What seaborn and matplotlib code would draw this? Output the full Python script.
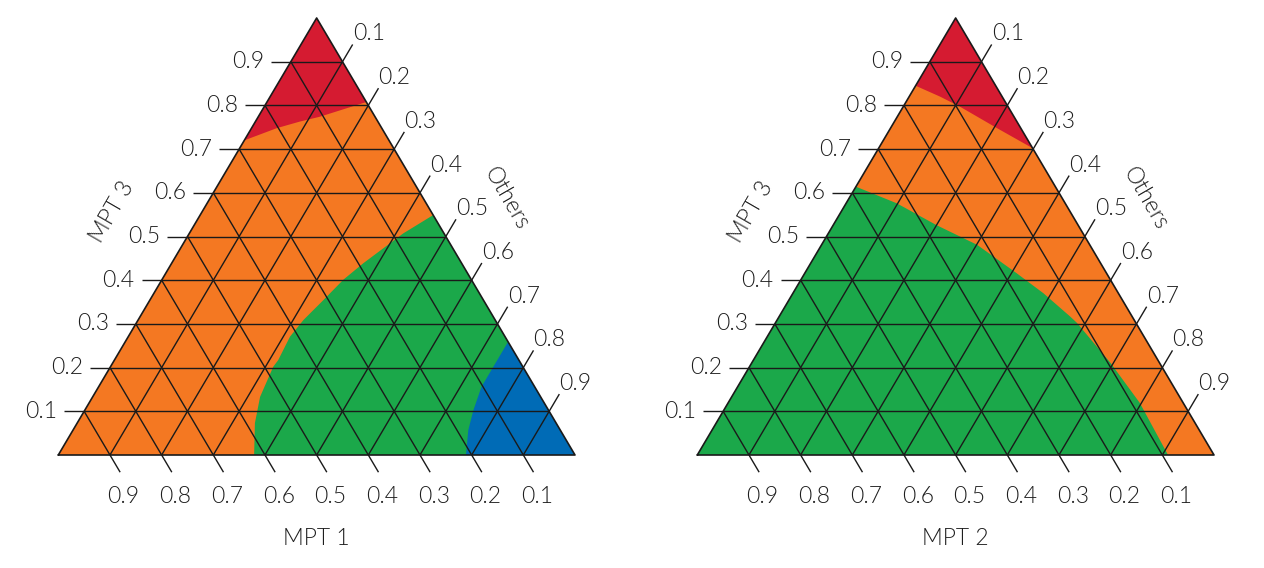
import matplotlib
matplotlib.use("Agg")
import matplotlib.pyplot as plt
from matplotlib.patches import Polygon
import seaborn as sns

sns.set_theme(style="white")
plt.rcParams["font.family"] = ["Lato", "DejaVu Sans"]

RED = "#d51b31"
ORANGE = "#f47822"
GREEN = "#1ba84a"
BLUE = "#006bb6"
LINE = "#1a1a1a"
TEXT = "#1e1e1e"

TICKS = [0.1, 0.2, 0.3, 0.4, 0.5, 0.6, 0.7, 0.8, 0.9]
TICK_LABELS = ["0.1", "0.2", "0.3", "0.4", "0.5", "0.6", "0.7", "0.8", "0.9"]

# class boundaries, as (MPT 3, Others) fractions
# left panel: MPT 1 / MPT 3 / Others
L_RED_MPT3 = [0.720, 0.748, 0.763, 0.774, 0.808]
L_RED_OTHERS = [0.000, 0.049, 0.086, 0.119, 0.193]

L_GREEN_MPT3 = [0.549, 0.507, 0.439, 0.401, 0.355, 0.309, 0.271, 0.217, 0.202, 0.133, 0.073, 0.000]
L_GREEN_OTHERS = [0.451, 0.414, 0.371, 0.351, 0.336, 0.320, 0.313, 0.317, 0.315, 0.324, 0.344, 0.379]

L_BLUE_MPT3 = [0.259, 0.202, 0.156, 0.103, 0.057, 0.000]
L_BLUE_OTHERS = [0.741, 0.741, 0.741, 0.752, 0.765, 0.789]

# right panel: MPT 2 / MPT 3 / Others
R_RED_MPT3 = [0.845, 0.820, 0.797, 0.748, 0.702]
R_RED_OTHERS = [0.000, 0.060, 0.110, 0.206, 0.298]

R_GREEN_MPT3 = [0.614, 0.576, 0.526, 0.481, 0.416, 0.370, 0.317, 0.302, 0.211, 0.119, 0.000]
R_GREEN_OTHERS = [0.000, 0.098, 0.200, 0.301, 0.410, 0.485, 0.563, 0.584, 0.694, 0.797, 0.911]

PX = 0.72  # points per pixel at dpi 100
TRI_W, TRI_H = 516.7, 437.0
TICK_PX = 20.0
FONT = dict(fontsize=16.5, fontweight=300, color=TEXT)


def to_xy(mpt3, others):
    return [(o + m / 2.0, m) for m, o in zip(mpt3, others)]


def fill(ax, pts, color, clip):
    patch = Polygon(pts, closed=True, facecolor=color, edgecolor="none", zorder=1)
    ax.add_patch(patch)
    patch.set_clip_path(clip)


def draw_panel(ax, bottom_title, regions):
    tri = Polygon([(0, 0), (1, 0), (0.5, 1)], closed=True, facecolor=ORANGE,
                  edgecolor="none", zorder=0)
    ax.add_patch(tri)
    for pts, color in regions:
        fill(ax, pts, color, tri)

    hx = TICK_PX / TRI_W
    t = TICK_PX / ((TRI_W / 2) ** 2 + TRI_H ** 2) ** 0.5
    kw = dict(color=LINE, lw=1.0, zorder=3, solid_capstyle="butt", clip_on=False)
    tkw = dict(textcoords="offset points", annotation_clip=False, **FONT)

    for k, lbl in zip(TICKS, TICK_LABELS):
        # constant MPT 3 (horizontal), tick to the left
        ax.plot([k / 2 - hx, 1 - k / 2], [k, k], **kw)
        ax.annotate(lbl, xy=(k / 2 - hx, k), xytext=(-7 * PX, 0),
                    ha="right", va="center", **tkw)
        # constant Others, tick up-right
        ex, ey = k + (1 - k) / 2 + 0.5 * t, 1 - k + t
        ax.plot([k, ex], [0, ey], **kw)
        ax.annotate(lbl, xy=(ex, ey), xytext=(0, 4 * PX),
                    ha="left", va="baseline", **tkw)
        # constant bottom component, tick down-right
        bx, by = 1 - k + 0.5 * t, -t
        ax.plot([(1 - k) / 2, bx], [1 - k, by], **kw)
        ax.annotate(lbl, xy=(bx, by), xytext=(3.5 * PX, -24 * PX),
                    ha="center", va="center", **tkw)

    ax.plot([0, 1, 0.5, 0], [0, 0, 1, 0], color=LINE, lw=1.2, zorder=4,
            clip_on=False)

    lkw = dict(transform=ax.transAxes, ha="center", va="center", **FONT)
    ax.text(0.5, -0.192, bottom_title, **lkw)
    ax.text(0.104, 0.556, "MPT 3", rotation=60, **lkw)
    ax.text(0.868, 0.586, "Others", rotation=-60, **lkw)

    ax.set_xlim(0, 1)
    ax.set_ylim(0, 1)
    ax.axis("off")


fig = plt.figure(figsize=(12.64, 5.68), dpi=100)
W, H = 1264.0, 568.0

ax1 = fig.add_axes([58.3 / W, (H - 455) / H, TRI_W / W, TRI_H / H])
left_regions = [
    (to_xy(L_RED_MPT3, L_RED_OTHERS) + [(0.5, 1.0)], RED),
    (to_xy(L_GREEN_MPT3, L_GREEN_OTHERS) + [(1.0, 0.0)], GREEN),
    (to_xy(L_BLUE_MPT3, L_BLUE_OTHERS) + [(1.0, 0.0)], BLUE),
]
draw_panel(ax1, "MPT 1", left_regions)

ax2 = fig.add_axes([697.3 / W, (H - 455) / H, TRI_W / W, TRI_H / H])
right_regions = [
    (to_xy(R_RED_MPT3, R_RED_OTHERS) + [(0.5, 1.0)], RED),
    (to_xy(R_GREEN_MPT3, R_GREEN_OTHERS) + [(0.0, 0.0)], GREEN),
]
draw_panel(ax2, "MPT 2", right_regions)

fig.savefig("out.png", dpi=100, facecolor="white")
